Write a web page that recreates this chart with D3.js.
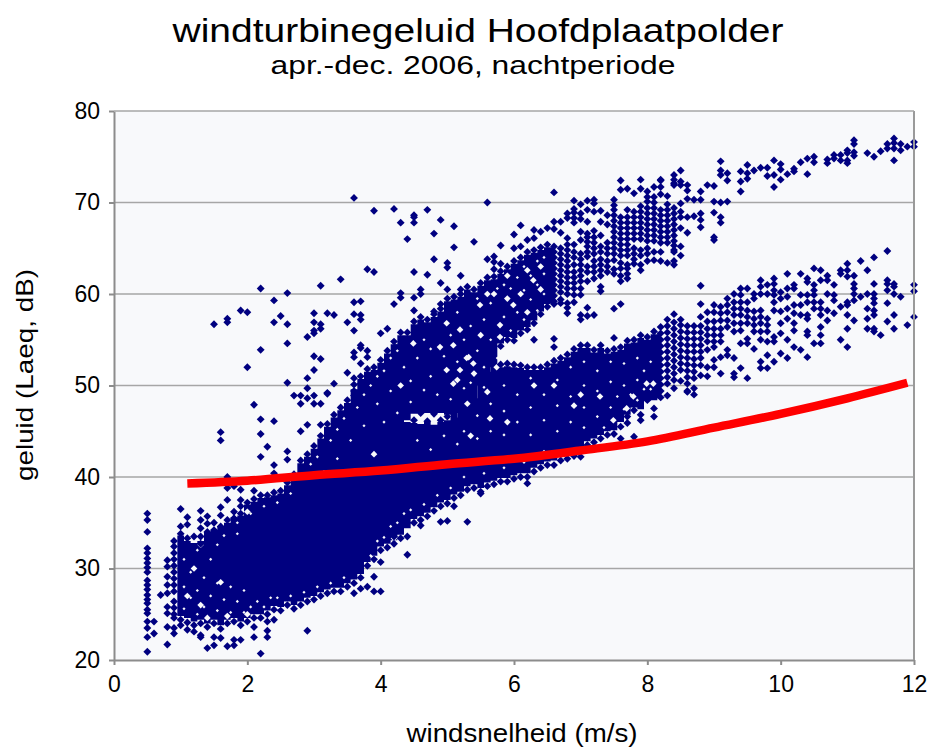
<!DOCTYPE html>
<html><head><meta charset="utf-8">
<script src="https://cdn.jsdelivr.net/npm/d3@7"></script>
<style>html,body{margin:0;padding:0;background:#fff}svg{display:block}text{font-family:"Liberation Sans",Arial,sans-serif;fill:#000}</style>
</head><body><svg id="c" width="929" height="749"></svg>
<script>
const titleText = "windturbinegeluid Hoofdplaatpolder";
const subtitleText = "apr.-dec. 2006, nachtperiode";
const xLabel = "windsnelheid (m/s)";
const yLabel = "geluid (Laeq, dB)";
const xTicks = [0,2,4,6,8,10,12];
const yTicks = [20,30,40,50,60,70,80];

// Red curve
const curveX = [1.1,2,3,4,5,6,7,8,9,10,11,11.9];
const curveY = [39.3,39.6,40.2,40.7,41.4,42,42.9,43.9,45.4,46.9,48.6,50.3];

// Solid columns where single markers cannot be told apart: [x, low, high]
const coreLower = [[0.95,24.8,33.6],[1,24.8,33.6],[1.1,24.6,33],[1.2,24.2,32.8],[1.3,24.4,33],[1.4,24,34],[1.5,24.4,34.2],[1.6,23.8,34.6],[1.7,24.4,35],[1.8,24.6,35.6],[1.9,24.2,35.8],[2,24.6,37],[2.1,25,37.3],[2.2,25,37.7],[2.3,25.4,37.8],[2.4,25.9,38],[2.5,25.8,38.2],[2.6,26.4,39.1],[2.7,26,40],[2.8,26.4,41.5],[2.9,26.8,42.2],[3,27,43.1],[3.1,27.4,44.2],[3.2,27.7,45.5],[3.3,27.9,46.5],[3.4,27.9,47.3],[3.5,28.4,48.1],[3.6,28.8,49.6],[3.7,29.4,50.7],[3.8,30.7,51.5],[3.9,31.4,51.7],[4,32.4,52.5],[4.1,32.7,53.5],[4.2,33.1,54.5],[4.3,33.7,47],[4.4,34.4,46],[4.5,35.4,45.9],[4.6,35.7,45.8],[4.7,36.1,46],[4.8,36.7,45.7],[4.9,37.2,46],[5,37.5,46.2],[5.1,38.1,46.5],[5.2,38.4,48],[5.3,39,48.5],[5.4,39.2,48.6],[5.5,38.8,50.5],[5.6,39.4,51.5],[5.7,39.6,52.2],[5.8,39.9,52],[5.9,39.9,52.1],[6,40.2,52],[6.1,40.4,51.9],[6.2,40.4,51.7],[6.3,41,51.7],[6.4,41.4,51.7],[6.5,41.7,52],[6.6,41.8,52.4],[6.7,42.2,52.7],[6.8,42.5,53.1],[6.9,42.7,53.7],[7,43,54.1],[7.1,43.9,54.1],[7.2,44.2,53.6],[7.3,44.6,54.1],[7.4,45,53.5],[7.5,45.1,53.7],[7.6,46,53.9],[7.7,46.8,54.6],[7.8,47.6,54.7],[7.9,47.4,55.2],[8,48.4,55],[8.1,48.4,55.6],[8.2,48.6,55.8]];
const coreUpper = [[4.2,45,54.5],[4.3,45,55.5],[4.4,46.2,55.5],[4.5,46.9,56.7],[4.6,47,57.2],[4.7,47,56.9],[4.8,46.9,57.5],[4.9,47,58.1],[5,46.8,59.2],[5.1,46,59.4],[5.2,47,59.7],[5.3,48,60.5],[5.4,48,60.2],[5.5,50,60.9],[5.6,51,61.5],[5.7,52,61.6],[5.8,54.6,62.2],[5.9,55.3,62.7],[6,55.2,63.3],[6.1,56,63.7],[6.2,56.4,64.3],[6.3,57.1,64.5],[6.4,58.1,64.8],[6.5,58.9,65.1],[6.6,59,65.1]];

// White gaps seen inside the solid columns: x, y
const gapsX = [5.64,5.6,5.4,5.74,5.15,5.3,5.35,4.99,5.19,5.09,5.29,4.99,5.19,5.09,5.39,4.49,4.89,5.49,5.79,5.99,5.32,6.29,5.79,5.6,5.9,5.7,6.1,6.2,6.4,6.4,5.5,6.2,5.9,7.29,7.79,7.49,7.69,8.09,7.99,6.3,1.3,1.4,1.7,2,3.9,4.2,2,3,2.9,1.1,1.6,1.3,1.2,6.6,7,4.3,5.9,6.9];
const gapsY = [46.4,49.3,51.3,52,50.6,48,44.5,56.8,56.1,54.4,53,51.7,51.7,50.2,52.4,54.6,54.2,58.8,56.6,58.8,53.1,61.5,55.3,60,62,60,60,62.6,60.5,63,55.5,58,59.5,48.8,48.8,46.2,47.5,50.2,50.2,50,32.6,24.6,24.8,36.2,42.5,33.3,25,43.6,45.2,27,28.5,26,30,50,49,50,46,47.8];

// Small specks between the marker columns: [x, y]
const specks = [[4.35,52],[4.45,50.5],[4.45,48.2],[4.55,53],[4.65,55],[4.65,49.5],[4.75,51],[4.75,54],[4.85,49],[4.95,53.2],[5.05,48.5],[5.05,55.5],[5.15,52.6],[5.15,58],[5.25,49.7],[5.25,55],[5.35,56.5],[5.35,50.3],[5.45,53.8],[5.45,59.5],[5.55,57.2],[5.55,52],[5.55,49.8],[5.65,55],[5.65,59],[5.75,53],[5.75,60.6],[5.85,57.5],[5.85,61],[5.95,56],[5.95,60.6],[6.05,58],[6.05,61.8],[6.15,57.2],[6.15,60.4],[6.15,63],[6.25,59.4],[6.25,62],[6.35,58.2],[6.35,61],[6.35,63.6],[6.45,60],[6.45,62.2],[6.45,64],
[4.55,44],[4.75,43],[4.95,44.5],[5.15,43.6],[5.25,45],[5.45,44.2],[5.45,46.7],[5.65,45],[5.65,48],[5.85,44.6],[5.85,47.2],[5.85,50],[6.05,46],[6.05,49],[6.25,44.6],[6.25,47.6],[6.25,50.8],[6.45,46.2],[6.45,49],[6.65,45],[6.65,47.8],[6.65,50.6],[6.85,46],[6.85,48.8],[6.85,52],[7.05,45.4],[7.05,47.6],[7.05,50],[7.05,52.6],[7.25,46.6],[7.25,49.4],[7.25,51.6],[7.35,45.4],[7.45,47.6],[7.45,50.4],[7.45,52.6],[7.55,48.8],[7.65,47.4],[7.65,50],[7.65,52.4],[7.75,49],[7.85,48.4],[7.85,50.6],[7.85,53],[7.95,49.6],[7.95,51.6],[8.05,49.6],[8.05,52.6],
[1.05,25.6],[1.05,28],[1.05,31],[1.15,26.8],[1.15,29.6],[1.25,25],[1.25,27.6],[1.25,32],[1.35,29],[1.35,25.8],[1.45,27],[1.45,31],[1.55,25.4],[1.55,28.4],[1.55,32.6],[1.65,26.6],[1.65,33.6],[1.75,25.2],[1.75,28],[1.85,26.4],[1.85,33.8],[1.95,25.2],[1.95,27.6],[2.05,25.8],[2.15,26.4],[2.25,25.8],[2.35,26.8],[2.45,26.8],[2.65,27],[2.85,27.4],[3.05,28],[3.25,28.4],[3.45,29],[1.85,35],[2.05,36],[2.25,36.8],[2.45,37.2],[2.65,38.2],[2.85,40.2],[2.95,41.4],[3.05,42.2],[3.15,40.6],[3.25,44],[3.35,45.2],[3.35,42],[3.45,46.4],[3.55,44],[3.65,47.6],[3.75,49],[3.75,45.6],[3.85,50],[3.95,48],[3.95,51],[4.05,46],[4.05,51.6],[4.15,49.4],[4.15,53],[4.25,47],[4.25,53.8],[3.85,31.4],[3.95,33],[4.05,33.4],[4.15,34.6],[4.25,35],[4.35,36],[4.45,36.4],[4.65,37],[4.85,38],[5.05,38.8],[5.25,40],[5.55,40.4],[5.85,41],[6.15,41.6],[6.45,42.8]];

// Individually read markers: [x, [y, y, ...]]
const pointRows = [
[0.5,[36,35.3,34,32.2,31.7,31.1,30.6,30.1,29.6,28.7,28.2,27.7,27.1,26.6,26.2,25.5,25.1,24.2,23.5,22.5,20.9]],
[0.6,[24.2,22.9]],[0.7,[27.1]],[0.8,[30.9,30.2,29.1,28.2,27.3,25.8,25.1,23.6,21.7]],
[0.9,[33,32.4,31.7,31,30.3,29.6,28.9,28.2,27.5,26.4,25.7,25,24.6,23.5,22.9]],[1,[36.5,34.6,33.8,24.4,23.8]],[1.1,[35.6,34.8,33.3,24.1,23.3]],[1.2,[33.5,23.8,23.1]],
[1.3,[36.3,35.3,34.4,33.5,32.7,24,22.7,22.5]],[1.4,[35.7,34.9,34,23.6,21.3]],[1.5,[56.7,35,34.2,24,22.5,21.6]],
[1.6,[44.9,44,36.7,35.8,34.6,23.4,22.4]],[1.7,[57.3,56.9,40,38.8,37.5,35.3,24,21.5]],[1.8,[39,36.2,35.5,24.2,22.2,21.6]],
[1.9,[58.2,38.6,37.5,36.8,36,23.8,22.2]],[2,[58,52,37.2,24.2]],[2.1,[47.9,38.5,37.6,24.6,23.6,22.5]],
[2.2,[60.6,53.9,46.3,44.7,42.2,38,24.6,20.7]],[2.3,[43.3,38,25,24.2,23.2,22.5]],[2.4,[59.3,56.9,46.1,41.3,40.4,38.3,25.5,24.4]],
[2.5,[57.6,38.5,25.4]],[2.6,[60.1,56.7,54.6,50.3,42.8,41.9,39.4,26]],[2.7,[48.9,40.3,25.6]],
[2.8,[48.9,48,45,41.8,26]],[2.9,[55.3,50.8,49.7,48.6,45.7,42.5,26.4,23.2]],
[3,[57.9,56.9,56,55.7,53.2,51.7,48.9,48,43.4,26.6]],[3.1,[60.9,56.7,56.2,52.9,48,45.7,44.5,27]],[3.2,[57.9,49.2,49.1,45.8,27.3]],
[3.3,[57.7,50.2,46.8,27.5]],[3.4,[61.6,47.6,27.5]],[3.5,[56.9,51.4,48.4,28]],
[3.6,[70.5,59.1,57.8,56,53.6,53.1,50.8,50.1,49.4,48.9,28.4,27.3]],[3.7,[59.2,57.7,57.2,54.4,54.1,52.4,51,50.2,49.3,29,27.8]],
[3.8,[62.7,53.8,53.1,51.8,30.3,28]],[3.9,[69.1,62.4,52,31,29.1,27.5]],[4,[55.7,52.8,32,30.7,27.5]],
[4.1,[56.2,53.8,32.3]],[4.2,[69.3,58.9,54.8,33.5,32.7]],[4.3,[67.8,60.1,59.6,55.8,33.3]],[4.4,[66,55.8,35,33.5,31.5]],
[4.5,[68.6,68.4,67.8,62.4,59.6,58.2,57,46.2,35]],[4.6,[60.5,60,57.5,47,35.3,34.7]],[4.7,[69.2,62.1,57.2,46.1,35.7]],
[4.8,[66.6,63.8,58.1,57.8,46.9,36.3]],[4.9,[68.1,61.2,58.9,58.4,46.2,36.8,35.1]],[5,[63.4,62.9,60.5,59.5,46.6,37.1,35.2]],
[5.1,[67.4,65.1,59.7,37.7,36.8]],[5.2,[62,60.5,60,38]],[5.3,[60.8,38.6,35.1]],[5.4,[65.7,60.5,38.8]],[5.5,[61.2,38.4,38.2]],
[5.6,[70,63.8,61.8,39]],[5.7,[64.1,63.5,62.7,61.9,39.2]],[5.8,[65.3,63.3,62.5,54.3,52.3,39.5]],[5.9,[63,55,52.4,39.5]],
[6,[66.5,65,63.6,54.9,52.3,39.8]],[6.1,[67.5,65.2,64,55.7,52.2,40]],[6.2,[65.9,64.6,56.1,52,40,39.3]],
[6.3,[67,66.1,64.8,56.8,55,52,40.6]],[6.4,[66.8,65.1,57.8,52,41]],[6.5,[67.2,65.4,58.6,52.3,41.3]],
[6.6,[71.1,67.9,67.1,65.2,64.6,64,63.4,62.8,62.2,61.6,61,60.4,59.8,59.2,58.9,55.1,54.2,52.7,41.3]],
[6.7,[67.9,66.7,65,64.4,63.8,63.2,62.6,62,61.4,60.8,60.2,59.4,59,53,41.8]],
[6.8,[68.8,68.3,66.1,65.4,64.8,64.2,63.6,63,62.4,61.8,61.2,60.6,60,59,58.5,57.9,53.4,42]],
[6.9,[70.2,69.3,68.9,68.3,67.8,65.4,64.6,64,63.2,62.4,61.8,61.2,60.6,59.9,59.1,54,42.3]],
[7,[69.8,68.8,68.2,66.8,65.9,64.4,63.8,63.2,62.6,62,61.4,60.6,59.9,57.7,57.2,54.4,42.2]],
[7.1,[70.2,69.2,67.9,66.6,66.2,65.7,65.2,64.6,64.1,63,62.4,61.4,58.5,57.6,54.4,43.5]],
[7.2,[70.3,69.9,69,66.9,66.2,65.6,65,64.4,63.6,63,62.4,61.7,57.7,53.9,43.8]],
[7.3,[69.1,67.9,66.4,65.2,64.6,63.8,63.2,62.6,62,60.8,60.3,54.4,44.2]],
[7.4,[68.6,67.6,65.6,65,64.4,63.6,63,62.4,53.8,44.6]],
[7.5,[70.3,69.7,69.2,68.6,68,67.4,66.8,66.2,65.6,65,64.4,63.7,62.7,62.2,58.4,55.2,54,44.7]],
[7.6,[72.4,71.4,68.4,67.8,67.2,66.6,66,65.4,64.8,64.2,63.4,62.8,62,61.4,58.9,54.2,46.6,45.5,44.2]],
[7.7,[71.5,69.2,68.4,67.8,67.2,66.6,66,65.4,64.8,64.2,63.2,62.8,62.2,61.7,54.9,46.6,45.9]],
[7.8,[71,69,68.4,67.8,67.2,66.6,66,65,64.4,63.8,63.3,55,47.3,44.4]],
[7.9,[72.5,71.5,69.6,69,68.4,67.8,67.2,66.6,66,64.8,64.2,63.2,62.6,55.5,46.8,46.2]],
[8,[71.2,70.6,70.1,69.4,68.8,68.2,67.6,67,66.4,65.8,65,64.4,63.6,55.3,48.4]],
[8.1,[71.7,70.6,70,69.4,68.8,68.2,67.6,67,66.4,65.8,64.6,63.7,55.9,47.5,46.6]],
[8.2,[72.5,72.4,71.7,70.9,69.2,68.6,68,67.4,66.8,66.2,65.6,64.6,63.6,56.4,55.7,55,54.3,53.6,52.9,52.2,51.5,50.8,50.1,49.4,48.7]],
[8.3,[70.7,69.8,69.2,68.6,68,67.4,66.8,66.2,65.6,63.4,57.2,56.5,55.8,55.1,54.4,53.7,53,52.3,51.6,50.9,50.2,48.9]],
[8.4,[73,72.5,72.1,71.9,69.4,68.8,68.2,67.6,67,66.4,65.8,65.3,64.8,64.6,63.6,63.2,57.8,56.9,56.2,55.5,54.8,54.1,53.4,52.7,52,51.3,50.6,49.7]],
[8.5,[73.5,72.3,71.9,69.9,69,68.4,67.2,65.2,64.2,57.2,56.6,55.9,55.2,54.5,53.8,53.1,52.4,51.7,50.5]],
[8.6,[71.9,71.3,70.4,68.4,66.7,56.5,55.8,55.1,54.4,53.7,53,52.3,51.6,50.9,50.2,49.4,49.3]],
[8.7,[70.3,68.5,56.5,55.8,55.1,54.4,53.7,52.9,52.2,51.5,50.8,49.7,49]],
[8.8,[71.2,70.3,68.8,68.1,67.3,60.9,58.9,57.5,56.5,55.8,55.1,54.4,53.7,53,52.2,51.1]],
[8.9,[71.9,58,57,56.2,55.5,54.8,53.9,52,51]],
[9,[71.8,70.1,68.9,66.2,65.9,58.8,58,57,56.2,55.5,54.8,54.2,52.8,52]],
[9.1,[74.5,73.5,73,70,68.4,67.8,58.6,57.9,57.1,56.2,55.5,54.8,53.1,51.3]],
[9.2,[73.2,72.4,70.1,59.5,58.8,58,57.1,56.4,53.9,53.3]],
[9.3,[60,59.1,58.4,57.7,56.8,55.9,53,51.3,50.9]],
[9.4,[73.4,72.3,71.2,60.6,59.9,59.1,58.4,57.7,56.8,56,54.6,51.9]],
[9.5,[74.1,73.2,72.6,60.6,59.1,58.2,57.5,56.8,55.1,54.6,50.8]],
[9.6,[73.5,60,59.5,58.1,57.3,56.6,55.9,54]],
[9.7,[73.8,61.5,60.8,60,58.2,57.5,56.8,55.9,55,52.6,51.9]],
[9.8,[73.8,72.9,61,60,57.3,56.6,55.9,54.8,53.3,51.9]],
[9.9,[74.6,73,71.7,61.7,61.1,60.4,59.9,59.1,58.2,55.3,54.8,52.6]],
[10,[74.2,73.6,72.5,60.2,59.5,58.1,56.8,55.7,53.5]],
[10.1,[73.1,62.2,60.6,59.7,58.4,57.3,55,53]],
[10.2,[73.7,73.4,61,60.6,58.8,57.9,56.8,56,54.2]],
[10.3,[74.4,62.2,59.9,58.8,57.7,53.9]],
[10.4,[74.8,73.1,61.7,61.3,59.9,59.1,57.7,57.3,55.9,55.5,53.1]],
[10.5,[75,74.4,62.8,61,60.4,59.9,59.1,58.4,54.6]],
[10.6,[62.6,61.5,59.1,58.4,57.7,56.4,55.5,54.6]],
[10.7,[74.7,74.3,62,61.5,60,58.2,57.1]],
[10.8,[75.2,74.8,61,59.9,59.3,57.9]],
[10.9,[75.2,74.6,62.6,62.2,58.6,55]],
[11,[75.7,75.4,74.6,74.3,63.3,62.6,61.9,59.1,58.8,57.7,56.2,54.2]],
[11.1,[76.8,76.4,75.5,75.1,62,61.1,60.6,60,59.3,57.1]],
[11.2,[63.6,59.7]],
[11.3,[75.4,62.6,60,58.4,57.3,56.2]],
[11.4,[75,64,61.1,60,59.5,59,58.2,57.7,56.2,55.9]],
[11.5,[75.6,55.5]],
[11.6,[76.4,75.9,64.7,61.5,61.1,60.4,59,57]],
[11.7,[77,76.5,75.9,74.6,61.1,60.8,60,57.7,56.2]],
[11.8,[76.4,75.7,59.7]],
[11.9,[76.1,56.6]],
[12,[76.6,76.1,61,60.3,57.5]]
];

const plotLeft = 114, plotRight = 914, plotTop = 111, plotBottom = 660;
const svg = d3.select("#c");
const x = d3.scaleLinear().domain([0,12]).range([plotLeft,plotRight]);
const y = d3.scaleLinear().domain([20,80]).range([plotBottom,plotTop]);
const bg = "#f8f9fb", navy = "#000080";

svg.append("rect").attr("x",plotLeft).attr("y",plotTop).attr("width",plotRight-plotLeft).attr("height",plotBottom-plotTop).attr("fill",bg);
svg.append("g").selectAll("line").data(yTicks.slice(1,-1)).join("line")
  .attr("x1",plotLeft).attr("x2",plotRight).attr("y1",d=>y(d)).attr("y2",d=>y(d)).attr("stroke","#a6a6a6").attr("stroke-width",1.5);

const band = d3.area().x(d=>x(d[0])).y0(d=>y(d[1])).y1(d=>y(d[2])).curve(d3.curveStep);
svg.append("path").attr("d",band(coreLower)).attr("fill",navy);
svg.append("path").attr("d",band(coreUpper)).attr("fill",navy);

const diamond = d3.symbol().type(d3.symbolSquare).size(31)();
const place = d=>`translate(${x(d[0])},${y(d[1])}) rotate(45)`;
svg.append("g").selectAll("path").data(gapsX.map((v,i)=>[v,gapsY[i]])).join("path")
  .attr("d",d3.symbol().type(d3.symbolSquare).size(22)()).attr("transform",place).attr("fill",bg);
svg.append("g").selectAll("path").data(specks).join("path")
  .attr("d",d3.symbol().type(d3.symbolSquare).size(5)()).attr("transform",place).attr("fill",bg);
svg.append("g").selectAll("path").data(pointRows.flatMap(r=>r[1].map(v=>[r[0],v]))).join("path")
  .attr("d",diamond).attr("transform",place).attr("fill",navy);

svg.append("path").attr("d",d3.line().x(d=>x(d[0])).y(d=>y(d[1])).curve(d3.curveMonotoneX)(curveX.map((v,i)=>[v,curveY[i]])))
  .attr("fill","none").attr("stroke","#ff0000").attr("stroke-width",8.5);

const gx = svg.append("g").attr("transform",`translate(0,${plotBottom})`).call(d3.axisBottom(x).tickValues(xTicks).tickSize(5).tickSizeOuter(0).tickPadding(11));
const gy = svg.append("g").attr("transform",`translate(${plotLeft},0)`).call(d3.axisLeft(y).tickValues(yTicks).tickSize(5).tickSizeOuter(0).tickPadding(9));
[gx,gy].forEach(g=>{g.selectAll("path,line").attr("stroke","#8c8c8c").attr("stroke-width",2);g.selectAll("text").attr("font-size",23).attr("fill","#000").style("font-family",'"Liberation Sans"');});
svg.append("line").attr("x1",plotRight).attr("x2",plotRight).attr("y1",plotTop).attr("y2",plotBottom).attr("stroke","#9a9a9a").attr("stroke-width",2);
svg.append("line").attr("x1",plotLeft).attr("x2",plotRight).attr("y1",plotTop).attr("y2",plotTop).attr("stroke","#a6a6a6").attr("stroke-width",1.5);

const addText=(t,px,py,size,w)=>svg.append("text").attr("x",px).attr("y",py).attr("text-anchor","middle").attr("font-size",size).attr("textLength",w).attr("lengthAdjust","spacingAndGlyphs").text(t);
addText(titleText,478,42,33,611);
addText(subtitleText,473,74,25,405);
addText(xLabel,522,742,25,231);
svg.append("text").attr("transform","translate(33,375) rotate(-90)").attr("text-anchor","middle").attr("font-size",24).attr("textLength",212).attr("lengthAdjust","spacingAndGlyphs").text(yLabel);
</script></body></html>
